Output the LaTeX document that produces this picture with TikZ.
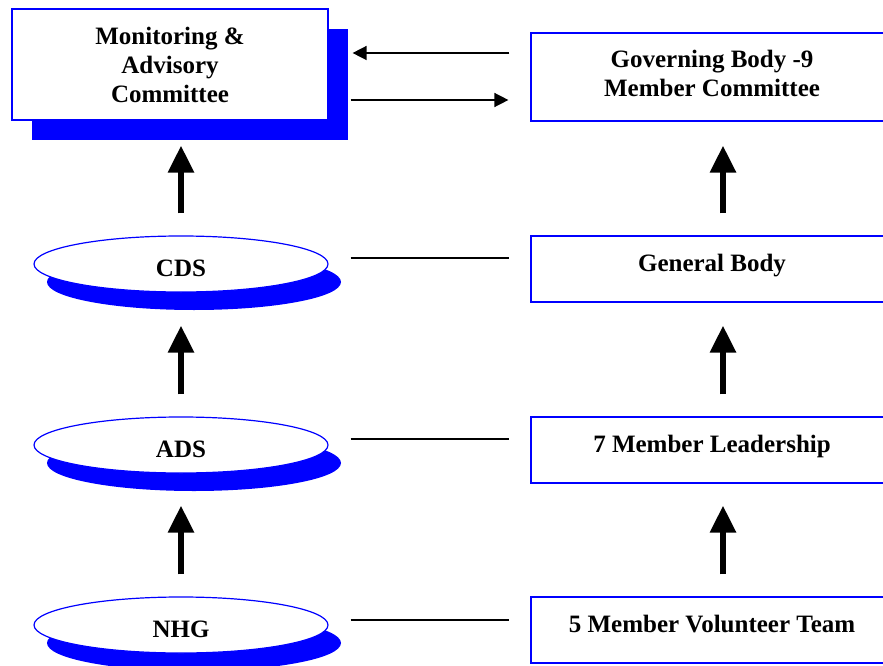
\documentclass[tikz,border=0pt]{standalone}
\usepackage{fontspec}
\setmainfont{Liberation Serif}
\usepackage{tikz}
\usetikzlibrary{arrows.meta}
\usetikzlibrary{shapes}
\usetikzlibrary{shadows}

\begin{document}
\begin{tikzpicture}[x=1pt,y=-1pt,
		every node/.style={font=\fontsize{25}{29}\selectfont\bfseries},
		bluebox/.style={rectangle, draw=blue, line width=1.2pt, fill=white, inner sep=0pt},
		rbox/.style={bluebox, minimum width=362pt, minimum height=66pt, text height=18pt, text depth=13pt},
		blueoval/.style={ellipse, draw=blue, line width=1.2pt, fill=white, inner sep=0pt, minimum width=294pt, minimum height=56pt, text height=25pt, text depth=0pt, general shadow={fill=blue, shadow xshift=13pt, shadow yshift=-18pt}},
		upstep/.style={line width=6pt, -{Triangle[width=25pt,length=27pt]}, shorten <=22pt},
		sideline/.style={line width=1.5pt},
		sidearrow/.style={sideline, -{Triangle[width=14pt,length=14pt]}}]
			\path[use as bounding box, clip] (0,0) rectangle (883,666);

			\node[bluebox, minimum width=316pt, minimum height=111pt, align=center, general shadow={fill=blue, shadow xshift=20pt, shadow yshift=-20pt}] (mac) at (170,64.5) {Monitoring \&\\Advisory\\Committee};
			\node[blueoval] (cds) at (181,264) {CDS};
			\node[blueoval] (ads) at (181,445) {ADS};
			\node[blueoval] (nhg) at (181,625) {NHG};

			\node[bluebox, minimum width=362pt, minimum height=88pt, align=center, text depth=8pt] (gov) at (712,77) {Governing Body -9\\Member Committee};
			\node[rbox] (general) at (712,269) {General Body};
			\node[rbox] (lead) at (712,450) {7 Member Leadership};
			\node[rbox] (team) at (712,630) {5 Member Volunteer Team};

			\draw[upstep, shorten >=25pt] (cds.north) -- (cds.north |- mac.south);
			\draw[upstep, shorten >=33pt] (ads.north) -- (cds.south);
			\draw[upstep, shorten >=32pt] (nhg.north) -- (ads.south);
			\draw[upstep, shorten >=24pt] (723,0 |- general.north) -- (723,0 |- gov.south);
			\draw[upstep, shorten >=23pt] (723,0 |- lead.north) -- (723,0 |- general.south);
			\draw[upstep, shorten >=22pt] (723,0 |- team.north) -- (723,0 |- lead.south);

			\draw[sidearrow, shorten <=21pt, shorten >=24pt] (gov.west |- 0,53) -- (mac.east |- 0,53);
			\draw[sidearrow, shorten <=22pt, shorten >=22pt] (mac.east |- 0,100) -- (gov.west |- 0,100);
			\draw[sideline, shorten <=22pt, shorten >=21pt] (cds.east |- 0,258) -- (general.west |- 0,258);
			\draw[sideline, shorten <=22pt, shorten >=21pt] (ads.east |- 0,439) -- (lead.west |- 0,439);
			\draw[sideline, shorten <=22pt, shorten >=21pt] (nhg.east |- 0,620) -- (team.west |- 0,620);
		\end{tikzpicture}
\end{document}
